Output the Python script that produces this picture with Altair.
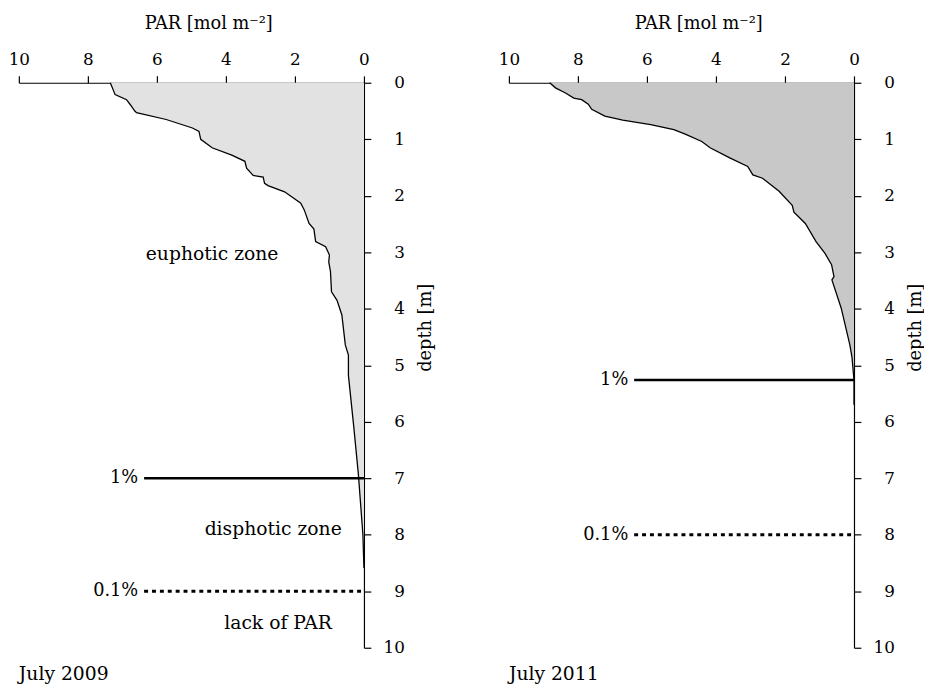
import altair as alt
import pandas as pd

# ---- data ----
depth_2009 = [0, 0.21, 0.30, 0.38, 0.50, 0.53, 0.65, 0.80, 0.86, 1.00, 1.15, 1.28, 1.39, 1.51,
              1.64, 1.67, 1.78, 1.82, 1.93, 2.13, 2.25, 2.49, 2.59, 2.81, 2.90, 3.05, 3.17,
              3.34, 3.70, 3.85, 4.11, 4.64, 4.82, 5.18, 6.06, 6.94, 7.35, 8.00, 8.59]
par_2009 = [7.35, 7.21, 6.88, 6.78, 6.64, 6.59, 5.73, 4.97, 4.78, 4.73, 4.40, 3.83, 3.45, 3.40,
            3.21, 2.92, 2.88, 2.78, 2.30, 1.83, 1.73, 1.59, 1.45, 1.40, 1.11, 1.00, 1.02,
            0.97, 0.94, 0.78, 0.64, 0.54, 0.45, 0.45, 0.30, 0.16, 0.11, 0.03, 0.0]

depth_2011 = [0, 0.09, 0.18, 0.27, 0.30, 0.38, 0.47, 0.59, 0.66, 0.74, 0.83, 0.91, 1.04, 1.15,
              1.33, 1.48, 1.63, 1.69, 1.92, 2.17, 2.29, 2.49, 2.81, 3.02, 3.22, 3.43, 3.49,
              3.99, 4.64, 4.85, 5.26, 5.70]
par_2011 = [8.82, 8.65, 8.36, 8.12, 7.89, 7.70, 7.60, 7.22, 6.70, 5.89, 5.22, 4.89, 4.41, 4.17,
            3.60, 3.08, 2.93, 2.65, 2.17, 1.79, 1.74, 1.41, 1.10, 0.84, 0.65, 0.58, 0.64,
            0.37, 0.12, 0.06, 0.0, 0.0]

level_labels = ["1%", "0.1%"]
levels_2009 = [7.0, 9.0]
levels_2011 = [5.26, 8.0]
level_start = 6.37

zones_2009 = ["euphotic zone", "disphotic zone", "lack of PAR"]
zones_2009_x = [4.4, 2.63, 2.49]
zones_2009_y = [3.03, 7.9, 9.56]

x_ticks = [0, 2, 4, 6, 8, 10]
y_ticks = list(range(11))

FONT = "DejaVu Serif"
H = 573


def panel(depth, par, fill, levels, title, zones=None):
    df = pd.DataFrame({"depth": depth, "par": par, "i": list(range(len(depth)))})
    x = alt.X("par:Q",
              scale=alt.Scale(domain=[0, 10], reverse=True),
              axis=alt.Axis(orient="top", values=x_ticks, title="PAR [mol m⁻²]",
                            format="d", labelFlush=False, labelPadding=8,
                            titleX=192, titleY=-55, titleBaseline="alphabetic",
                            titleAlign="center", titleFont=FONT))
    y = alt.Y("depth:Q",
              scale=alt.Scale(domain=[0, 10], reverse=True),
              axis=alt.Axis(orient="right", values=y_ticks, title="depth [m]",
                            format="d", labelFlush=False,
                            titleAngle=270, titleX=62, titleY=248,
                            titleBaseline="middle", titleAlign="center",
                            labelAlign="right", labelPadding=34, titleFont=FONT))
    area = alt.Chart(df).mark_area(orient="horizontal", color=fill).encode(x=x, y=y)
    line = alt.Chart(df).mark_line(color="black", strokeWidth=1.3).encode(
        x="par:Q", y="depth:Q", order="i:Q")

    lv = pd.DataFrame({"label": level_labels, "depth": levels,
                       "x": [level_start, level_start], "x2": [0, 0],
                       "kind": ["solid", "dotted"]})
    solid = alt.Chart(lv[lv.kind == "solid"]).mark_rule(
        color="black", strokeWidth=2.5).encode(x="x:Q", x2="x2:Q", y="depth:Q")
    dotted = alt.Chart(lv[lv.kind == "dotted"]).mark_rule(
        color="black", strokeWidth=3, strokeDash=[4, 4], strokeCap="butt").encode(
        x="x:Q", x2="x2:Q", y="depth:Q")
    lvtext = alt.Chart(lv).mark_text(align="right", baseline="middle", dx=-6,
                                     font=FONT, fontSize=18, color="black").encode(
        x="x:Q", y="depth:Q", text="label:N")
    layers = [area, line, solid, dotted, lvtext]
    if zones:
        zdf = pd.DataFrame({"t": zones[0], "x": zones[1], "y": zones[2]})
        layers.append(alt.Chart(zdf).mark_text(font=FONT, fontSize=19, color="black",
                                               baseline="middle").encode(
            x="x:Q", y="y:Q", text="t:N"))
    return alt.layer(*layers).properties(
        width=350, height=H,
        title=alt.TitleParams(title, orient="bottom", anchor="start", frame="group",
                              font=FONT, fontSize=19, fontWeight="normal",
                              color="black", offset=10))


left = panel(depth_2009, par_2009, "#e2e2e2", levels_2009, "July 2009",
             (zones_2009, zones_2009_x, zones_2009_y))
right = panel(depth_2011, par_2011, "#c8c8c8", levels_2011, "July 2011")

chart = alt.hconcat(left, right, spacing=65).properties(
    padding={"left": 0, "top": 2, "right": 0, "bottom": 0}
).configure_view(stroke=None).configure_axis(
    grid=False, domainColor="black", tickColor="black", labelColor="black",
    titleColor="black", labelFont=FONT, titleFont=FONT, labelFontSize=17,
    titleFontSize=18, titleFontWeight="normal", tickSize=7, domainWidth=1.2,
    tickWidth=1.2
)

chart.save("out.html", embed_options={"renderer": "svg", "actions": False})
